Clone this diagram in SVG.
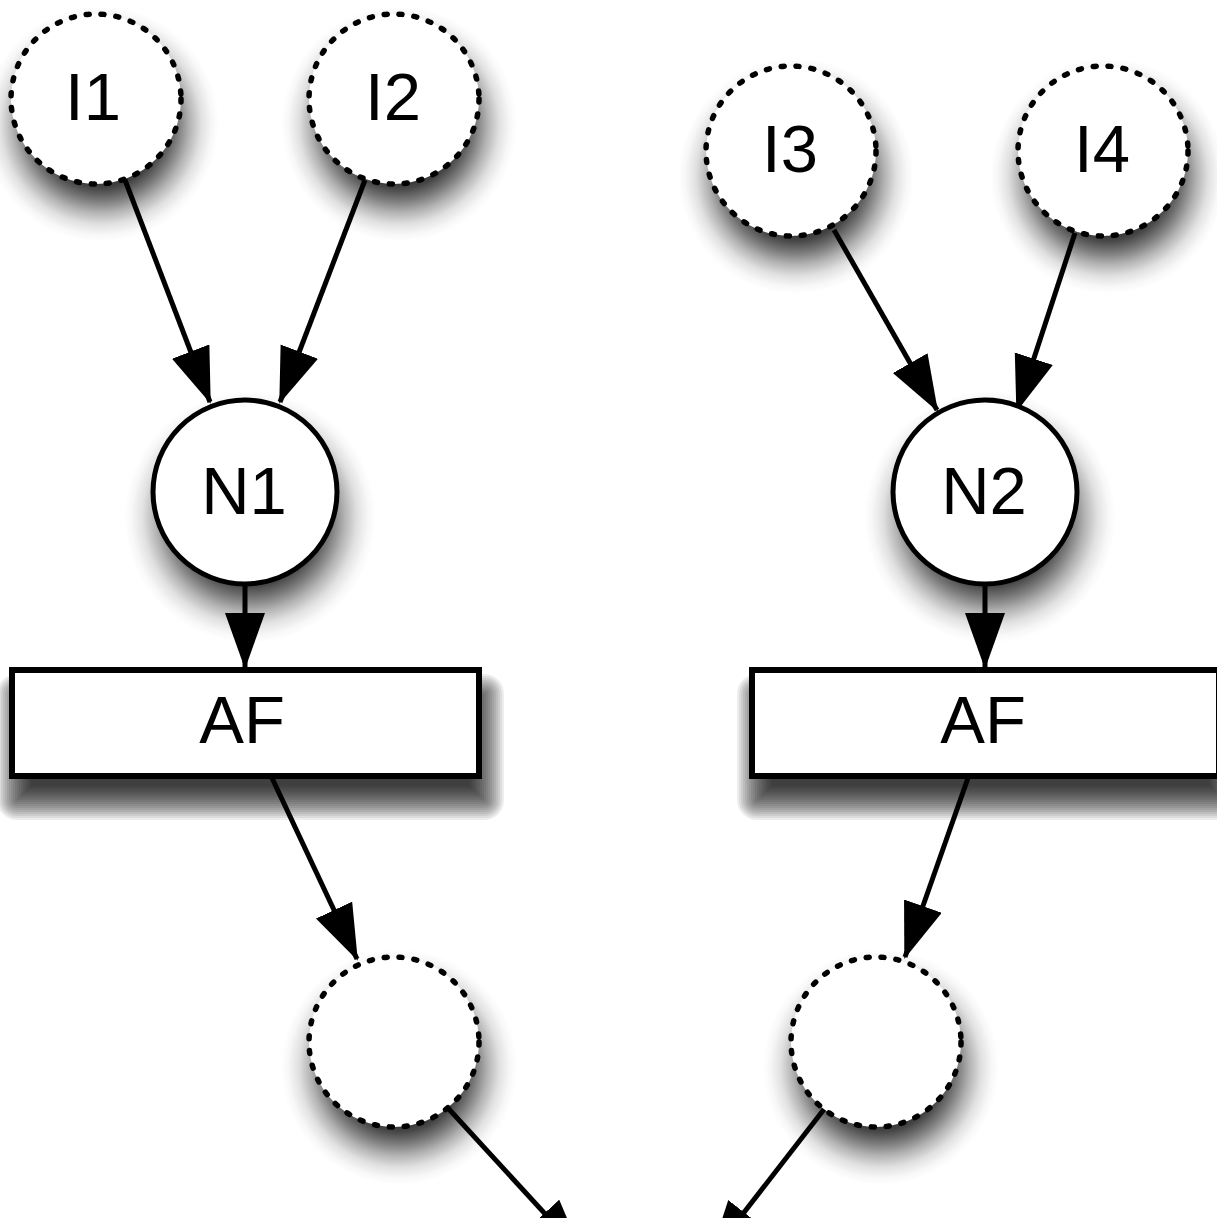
<svg xmlns="http://www.w3.org/2000/svg" width="1217" height="1218" viewBox="0 0 1217 1218">
<style>
.dash{fill:#fff;stroke:#000;stroke-width:5.5;stroke-dasharray:3 12;stroke-linecap:round}
.solid{fill:#fff;stroke:#000;stroke-width:5}
.box{fill:#fff;stroke:#000;stroke-width:6}
.cs{fill:url(#rg)}
.rs rect{fill:#000;fill-opacity:0.07}
.lbl{font-family:"Liberation Sans",Arial,Helvetica,sans-serif;font-size:67px;fill:#000;text-anchor:middle}
.edge{stroke:#000;stroke-width:5;fill:none;marker-end:url(#ah)}
</style>
<defs>
<radialGradient id="rg">
<stop offset="0" stop-color="#000" stop-opacity="0.85"/>
<stop offset="0.45" stop-color="#000" stop-opacity="0.85"/>
<stop offset="0.55" stop-color="#000" stop-opacity="0.72"/>
<stop offset="0.65" stop-color="#000" stop-opacity="0.52"/>
<stop offset="0.75" stop-color="#000" stop-opacity="0.3"/>
<stop offset="0.85" stop-color="#000" stop-opacity="0.12"/>
<stop offset="0.94" stop-color="#000" stop-opacity="0.03"/>
<stop offset="1" stop-color="#000" stop-opacity="0"/>
</radialGradient>
<g id="boxshadow" class="rs">
<rect x="31" y="708" width="439" height="78"/>
<rect x="29" y="706" width="443" height="82"/>
<rect x="27" y="704" width="447" height="86"/>
<rect x="25" y="702" width="451" height="90"/>
<rect x="23" y="700" width="455" height="94"/>
<rect x="21" y="698" width="459" height="98"/>
<rect x="19" y="696" width="463" height="102"/>
<rect x="17" y="694" width="467" height="106"/>
<rect x="15" y="692" width="471" height="110" rx="2"/>
<rect x="13" y="690" width="475" height="114" rx="4"/>
<rect x="11" y="688" width="479" height="118" rx="6"/>
<rect x="9" y="686" width="483" height="122" rx="8"/>
<rect x="7" y="684" width="487" height="126" rx="10"/>
<rect x="5" y="682" width="491" height="130" rx="12"/>
<rect x="3" y="680" width="495" height="134" rx="14"/>
<rect x="1" y="678" width="499" height="138" rx="16"/>
<rect x="-1" y="676" width="503" height="142" rx="18"/>
<rect x="-3" y="674" width="507" height="146" rx="20"/>
</g>
<marker id="ah" markerUnits="userSpaceOnUse" markerWidth="58" markerHeight="42" refX="54" refY="20" orient="auto">
<path d="M0,0 L56,20 L0,40 z" fill="#000"/>
</marker>
</defs>
<rect width="1217" height="1218" fill="#fff"/>
<g id="shadows">
<circle class="cs" cx="101" cy="124" r="118"/>
<circle class="cs" cx="399" cy="124" r="118"/>
<circle class="cs" cx="796" cy="176" r="118"/>
<circle class="cs" cx="1108" cy="176" r="118"/>
<circle class="cs" cx="250" cy="517" r="126"/>
<circle class="cs" cx="990" cy="517" r="126"/>
<circle class="cs" cx="399" cy="1067" r="118"/>
<circle class="cs" cx="881" cy="1067" r="118"/>
<use href="#boxshadow"/>
<use href="#boxshadow" transform="translate(740,0)"/>
</g>
<g id="connectors">
<line class="edge" x1="125" y1="180" x2="210" y2="402"/>
<line class="edge" x1="365" y1="180" x2="280" y2="402"/>
<line class="edge" x1="834" y1="230" x2="937" y2="410"/>
<line class="edge" x1="1075" y1="233" x2="1017" y2="410"/>
<line class="edge" x1="245" y1="585" x2="245" y2="667"/>
<line class="edge" x1="985" y1="585" x2="985" y2="667"/>
<line class="edge" x1="272" y1="778" x2="357" y2="959"/>
<line class="edge" x1="968" y1="778" x2="905" y2="957"/>
<line class="edge" x1="447" y1="1107" x2="581" y2="1253"/>
<line class="edge" x1="825" y1="1108" x2="711" y2="1255"/>
</g>
<g id="I1"><circle class="dash" cx="96" cy="99" r="85"/><text class="lbl" x="93" y="120">I1</text></g>
<g id="I2"><circle class="dash" cx="394" cy="99" r="85"/><text class="lbl" x="393" y="120">I2</text></g>
<g id="I3"><circle class="dash" cx="791" cy="151" r="85"/><text class="lbl" x="790" y="172">I3</text></g>
<g id="I4"><circle class="dash" cx="1103" cy="151" r="85"/><text class="lbl" x="1102" y="172">I4</text></g>
<g id="N1"><circle class="solid" cx="245" cy="492" r="92"/><text class="lbl" x="244" y="514">N1</text></g>
<g id="N2"><circle class="solid" cx="985" cy="492" r="92"/><text class="lbl" x="984" y="514">N2</text></g>
<g id="AF1"><rect class="box" x="12" y="670" width="467" height="106"/><text class="lbl" x="242" y="743">AF</text></g>
<g id="AF2"><rect class="box" x="752" y="670" width="467" height="106"/><text class="lbl" x="983" y="743">AF</text></g>
<g id="O1"><circle class="dash" cx="394" cy="1042" r="85"/></g>
<g id="O2"><circle class="dash" cx="876" cy="1042" r="85"/></g>
</svg>
